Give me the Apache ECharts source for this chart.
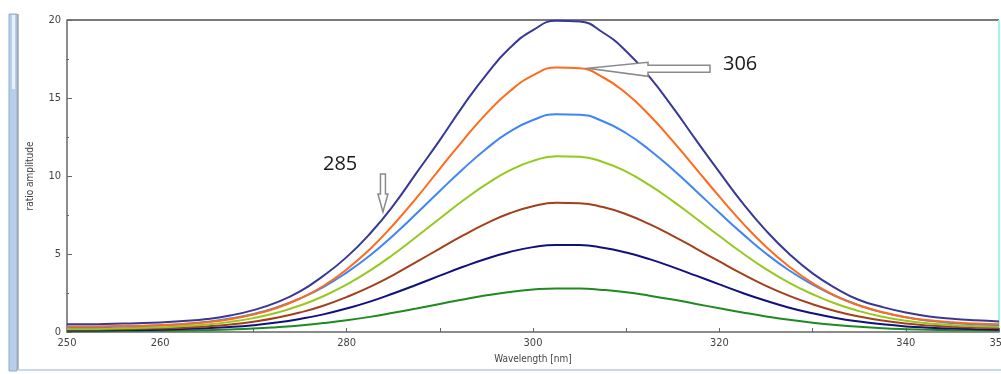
<!DOCTYPE html>
<html>
<head>
<meta charset="utf-8">
<script src="https://cdn.jsdelivr.net/npm/echarts@6/dist/echarts.min.js"></script>
<style>
html,body{margin:0;padding:0;background:#fff;}
#chart{width:1001px;height:374px;}
</style>
</head>
<body>
<div id="chart"></div>
<script>
// wavelength samples (nm)
var wavelengths = [250,252.5,255,257.5,260,262.5,265,267.5,270,272.5,275,277.5,280,282.5,285,287.5,290,292.5,295,297.5,
                   300,302.5,305,307.5,310,312.5,315,317.5,320,322.5,325,327.5,330,332.5,335,337.5,340,342.5,345,347.5,350];

// ratio amplitude per curve
var curveNavy   = [0.5,0.5,0.53,0.56,0.61,0.7,0.83,1.06,1.4,1.9,2.6,3.6,4.8,6.3,8.1,10.2,12.3,14.5,16.5,18.2,
                   19.35,19.95,19.9,19.2,18.0,16.35,14.4,12.3,10.25,8.26,6.5,5.0,3.76,2.8,2.05,1.6,1.25,1.0,0.85,0.75,0.68];
var curveOrange = [0.35,0.35,0.38,0.4,0.44,0.52,0.63,0.82,1.12,1.54,2.15,2.95,4.01,5.31,6.86,8.6,10.46,12.29,14.0,15.43,
                   16.45,16.95,16.9,16.33,15.3,13.89,12.24,10.46,8.68,6.98,5.46,4.18,3.13,2.3,1.7,1.27,0.95,0.75,0.62,0.54,0.5];
var curveBlue   = [0.3,0.3,0.34,0.37,0.43,0.52,0.65,0.86,1.16,1.58,2.15,2.88,3.81,4.9,6.19,7.59,9.04,10.45,11.75,12.84,
                   13.59,13.96,13.93,13.51,12.74,11.67,10.41,9.04,7.64,6.29,5.03,3.94,3.04,2.29,1.71,1.26,0.94,0.72,0.58,0.5,0.45];
var curveLime   = [0.2,0.2,0.23,0.26,0.3,0.38,0.48,0.65,0.89,1.23,1.7,2.29,3.04,3.93,4.97,6.11,7.28,8.43,9.48,10.36,
                   10.97,11.27,11.24,10.9,10.28,9.41,8.39,7.28,6.15,5.05,4.03,3.15,2.42,1.81,1.34,0.98,0.72,0.55,0.44,0.37,0.33];
var curveBrown  = [0.15,0.15,0.17,0.19,0.23,0.28,0.36,0.48,0.66,0.91,1.25,1.68,2.24,2.89,3.65,4.49,5.35,6.19,6.96,7.61,
                   8.06,8.28,8.26,8.01,7.55,6.91,6.16,5.35,4.52,3.71,2.96,2.32,1.78,1.33,0.99,0.73,0.54,0.41,0.33,0.28,0.25];
var curveDark   = [0.1,0.1,0.12,0.13,0.15,0.19,0.24,0.32,0.44,0.61,0.84,1.13,1.51,1.95,2.47,3.03,3.61,4.18,4.7,5.13,
                   5.44,5.58,5.57,5.4,5.09,4.67,4.16,3.61,3.05,2.5,2.0,1.56,1.2,0.9,0.67,0.49,0.36,0.28,0.22,0.18,0.15];
var curveGreen  = [0.05,0.05,0.06,0.07,0.08,0.09,0.12,0.16,0.22,0.31,0.42,0.57,0.75,0.97,1.23,1.51,1.8,2.09,2.35,2.57,
                   2.72,2.79,2.79,2.7,2.55,2.33,2.08,1.8,1.52,1.25,1.0,0.78,0.6,0.45,0.33,0.24,0.18,0.14,0.12,0.11,0.1];

var xLabels = [250,260,280,300,320,340,350];

function pairs(vals){
  var out = [];
  for (var i = 0; i < wavelengths.length; i++) out.push([wavelengths[i], vals[i]]);
  return out;
}

function mkSeries(vals, color){
  return {
    type: 'line',
    data: pairs(vals),
    smooth: true,
    showSymbol: false,
    silent: true,
    lineStyle: {color: color, width: 2},
    itemStyle: {color: color}
  };
}

var axisFont = '"Liberation Sans Narrow", "DejaVu Sans Condensed", sans-serif';

var dom = document.getElementById('chart');
var myChart = echarts.init(dom);
var option = {
  animation: false,
  backgroundColor: '#fff',
  grid: {left: 67, right: 2, top: 20, bottom: 42, containLabel: false, outerBoundsMode: 'none'},
  xAxis: {
    type: 'value',
    min: 250,
    max: 350,
    interval: 10,
    name: 'Wavelength [nm]',
    nameLocation: 'middle',
    nameGap: 22,
    nameTextStyle: {color: '#444', fontSize: 10, fontFamily: axisFont},
    axisLine: {lineStyle: {color: '#666', width: 1.5}},
    axisTick: {inside: true, length: 4, lineStyle: {color: '#666'}},
    splitLine: {show: false},
    axisLabel: {
      color: '#444', fontSize: 11, fontFamily: axisFont, margin: 6,
      showMaxLabel: true, hideOverlap: false,
      formatter: function(v){ return xLabels.indexOf(v) >= 0 ? String(v) : ''; }
    }
  },
  yAxis: {
    type: 'value',
    min: 0,
    max: 20,
    interval: 5,
    name: 'ratio amplitude',
    nameLocation: 'middle',
    nameGap: 32,
    nameTextStyle: {color: '#444', fontSize: 10, fontFamily: axisFont},
    axisLine: {show: true, lineStyle: {color: '#666', width: 1.5}},
    axisTick: {show: true, inside: true, length: 5, lineStyle: {color: '#666'}},
    minorTick: {show: true, splitNumber: 2, length: 2, lineStyle: {color: '#666'}},
    splitLine: {show: false},
    axisLabel: {color: '#444', fontSize: 11, fontFamily: axisFont, margin: 6}
  },
  series: [
    mkSeries(curveGreen, '#1f8a1f'),
    mkSeries(curveDark, '#10107e'),
    mkSeries(curveBrown, '#a3401c'),
    mkSeries(curveLime, '#96c81e'),
    mkSeries(curveBlue, '#3f86f4'),
    mkSeries(curveOrange, '#ff6a1c'),
    mkSeries(curveNavy, '#383896')
  ]
};
myChart.setOption(option);

// annotation arrows, anchored to data coordinates
var tip285 = myChart.convertToPixel({gridIndex: 0}, [283.9, 7.7]);
var tip306 = myChart.convertToPixel({gridIndex: 0}, [305.9, 16.9]);

function downArrow(p){
  var x = p[0], y = p[1];
  return [[x-2.5,y-38],[x+2.5,y-38],[x+2.5,y-18],[x+5,y-18],[x,y],[x-5,y-18],[x-2.5,y-18]];
}
function leftArrow(p){
  var x = p[0], y = p[1];
  return [[x,y],[x+60,y-6],[x+60,y-3],[x+122,y-3],[x+122,y+4],[x+60,y+4],[x+60,y+8]];
}
var arrowStyle = {fill: '#fff', stroke: '#8a8a8a', lineWidth: 1.5};
var labelFont = '20px "Open Sans", sans-serif';

myChart.setOption({
  graphic: [
    // window frame pieces
    {type: 'rect', shape: {x: 9, y: 14, width: 8, height: 357}, style: {fill: '#b7cfe8', stroke: '#8eaed2', lineWidth: 1}},
    {type: 'rect', shape: {x: 12, y: 15, width: 3, height: 74}, style: {fill: '#e8f0f8'}},
    {type: 'line', shape: {x1: 18, y1: 14, x2: 18, y2: 370}, style: {stroke: '#7a7a7a', lineWidth: 1}},
    {type: 'line', shape: {x1: 18, y1: 370, x2: 1001, y2: 370}, style: {stroke: '#c9d9ea', lineWidth: 2}},
    // plot frame
    {type: 'line', shape: {x1: 67, y1: 20, x2: 999, y2: 20}, style: {stroke: '#7a7a7a', lineWidth: 2}},
    {type: 'line', shape: {x1: 999, y1: 20, x2: 999, y2: 332}, style: {stroke: '#9ff3f3', lineWidth: 2}},
    // annotations
    {type: 'polygon', shape: {points: downArrow(tip285)}, style: arrowStyle, z: 100},
    {type: 'polygon', shape: {points: leftArrow(tip306)}, style: arrowStyle, z: 100},
    {type: 'text', x: tip285[0] - 60, y: tip285[1] - 58, style: {text: '285', font: labelFont, fill: '#1a1a1a'}, z: 100},
    {type: 'text', x: tip306[0] + 135, y: tip306[1] - 14, style: {text: '306', font: labelFont, fill: '#1a1a1a'}, z: 100}
  ]
});
</script>
</body>
</html>
